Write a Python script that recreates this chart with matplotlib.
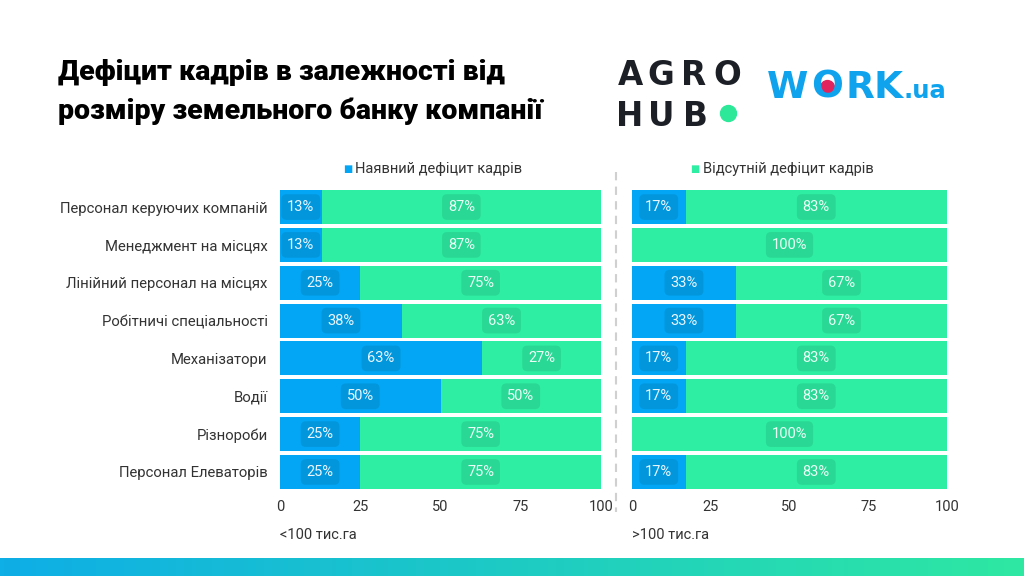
import numpy as np
import matplotlib
matplotlib.use('Agg')
import matplotlib.pyplot as plt
from matplotlib.lines import Line2D
from matplotlib.colors import LinearSegmentedColormap

plt.rcParams['font.family'] = ['Roboto', 'DejaVu Sans']

# data ------------------------------------------------------------
categories = ['Персонал керуючих компаній', 'Менеджмент на місцях',
              'Лінійний персонал на місцях', 'Робітничі спеціальності',
              'Механізатори', 'Водії', 'Різнороби', 'Персонал Елеваторів']
small_deficit = [13, 13, 25, 38, 63, 50, 25, 25]
small_no_deficit = [87, 87, 75, 63, 27, 50, 75, 75]
large_deficit = [17, 0, 33, 33, 17, 17, 0, 17]
large_no_deficit = [83, 100, 67, 67, 83, 83, 100, 83]
ticks = [0, 25, 50, 75, 100]
panel_names = ['<100 тис.га', '>100 тис.га']
legend_names = ['Наявний дефіцит кадрів', 'Відсутній дефіцит кадрів']

BLUE = '#03a6f4'
GREEN = '#2eeea3'
TXT = '#333333'

W, H = 1024, 576
fig = plt.figure(figsize=(W / 100, H / 100), dpi=100)
fig.patch.set_facecolor('white')


def fx(px):
    return px / W


def fy(py):
    return 1 - py / H


ax1 = fig.add_axes([fx(280), fy(489), fx(601 - 280), (489 - 190) / H])
ax2 = fig.add_axes([fx(632), fy(489), fx(947 - 632), (489 - 190) / H])

y = np.arange(len(categories))


def draw_panel(ax, deficit, no_deficit, legend_text, legend_color, name, lx):
    rest = [100 - d for d in deficit]
    ax.barh(y, deficit, height=0.9, color=BLUE, linewidth=0)
    ax.barh(y, rest, left=deficit, height=0.9, color=GREEN, linewidth=0)
    box = dict(boxstyle='round,pad=0.4,rounding_size=0.35', fc='black',
               ec='none', alpha=0.09)
    for i in range(len(y)):
        if deficit[i] > 0:
            ax.text(deficit[i] / 2, y[i], f'{deficit[i]}%', ha='center',
                    va='center', fontsize=10.5, color='#eaf6ff', bbox=box)
        ax.text(deficit[i] + rest[i] / 2, y[i], f'{no_deficit[i]}%',
                ha='center', va='center', fontsize=10.5, color='#eafff6',
                bbox=box)
    ax.set_xlim(0, 100)
    ax.set_ylim(7.45, -0.45)
    ax.set_xticks(ticks)
    ax.set_xticklabels([str(t) for t in ticks])
    ax.tick_params(axis='x', length=0, labelsize=10.5, colors=TXT, pad=8)
    for s in ax.spines.values():
        s.set_visible(False)
    ax.text(0, -0.155, name, transform=ax.transAxes, fontsize=10.5,
            color=TXT, va='center', ha='left')
    ax.text(lx, 1.07, '■ ', transform=ax.transAxes, fontsize=7,
            color=legend_color, ha='right', va='center')
    ax.text(lx, 1.07, legend_text, transform=ax.transAxes, fontsize=10.5,
            color=TXT, ha='left', va='center')


draw_panel(ax1, small_deficit, small_no_deficit, legend_names[0], BLUE,
           panel_names[0], 0.235)
draw_panel(ax2, large_deficit, large_no_deficit, legend_names[1], GREEN,
           panel_names[1], 0.225)

ax1.set_yticks(y)
ax1.set_yticklabels(categories)
ax1.tick_params(axis='y', length=0, labelsize=10.7, colors=TXT, pad=9)
ax2.set_yticks([])

# dashed separator
fig.add_artist(Line2D([fx(616), fx(616)], [fy(172), fy(512)],
                      color='#d0d0d0', lw=1.5, ls=(0, (4, 3))))

# title
fig.text(fx(58), fy(73), 'Дефіцит кадрів в залежності від', fontsize=20.5,
         fontweight='heavy', color='#000000', va='center')
fig.text(fx(58), fy(111), 'розміру земельного банку компанії', fontsize=20.5,
         fontweight='heavy', color='#000000', va='center')

# AGRO HUB logo
logo_font = dict(family='DejaVu Sans', fontweight='bold', color='#1c2026',
                 ha='center', va='baseline', fontsize=23.5)
for cx, ch in zip([630, 661, 694, 727], 'AGRO'):
    fig.text(fx(cx), fy(85), ch, **logo_font)
for cx, ch in zip([630, 661, 695], 'HUB'):
    fig.text(fx(cx), fy(126), ch, **logo_font)
fig.add_artist(Line2D([fx(728)], [fy(113)], marker='o', ms=11.5,
                      color='#2ee89a', lw=0))

# WORK.ua logo
work_font = dict(family='DejaVu Sans', fontweight='bold', color='#0fa3ee',
                 ha='center', va='baseline', fontsize=27)
for cx, ch in zip([788, 827, 860, 888], 'WORK'):
    fig.text(fx(cx), fy(98), ch, **work_font)
fig.text(fx(903), fy(98), '.ua', family='DejaVu Sans', fontweight='bold',
         color='#0fa3ee', ha='left', va='baseline', fontsize=17.5)
fig.add_artist(Line2D([fx(827)], [fy(87)], marker='o', ms=10,
                      color='#e0245e', lw=0))

# bottom gradient strip
gax = fig.add_axes([0, 0, 1, 18 / H])
cmap = LinearSegmentedColormap.from_list('g', ['#0eaee6', '#2ee8a2'])
gax.imshow(np.linspace(0, 1, 256).reshape(1, -1), aspect='auto', cmap=cmap)
gax.axis('off')

fig.savefig('out.png', dpi=100)
